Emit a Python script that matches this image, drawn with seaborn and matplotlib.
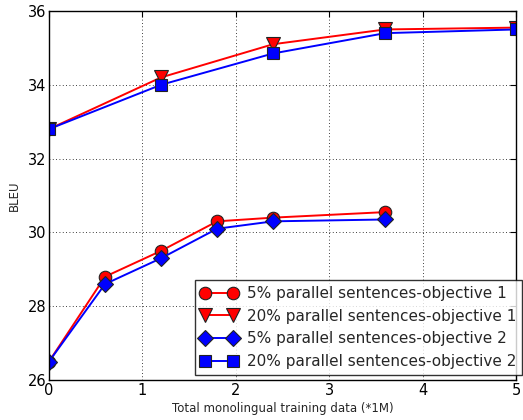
import matplotlib
matplotlib.use("Agg")
import matplotlib.pyplot as plt
import seaborn as sns
import pandas as pd

# Amount of monolingual data (millions of sentences)
x_small = [0, 0.6, 1.2, 1.8, 2.4, 3.6]
x_large = [0, 1.2, 2.4, 3.6, 5.0]

# BLEU scores
bleu_5_obj1 = [26.5, 28.8, 29.5, 30.3, 30.4, 30.55]
bleu_20_obj1 = [32.8, 34.2, 35.1, 35.5, 35.55]
bleu_5_obj2 = [26.5, 28.6, 29.3, 30.1, 30.3, 30.35]
bleu_20_obj2 = [32.8, 34.0, 34.85, 35.4, 35.5]

labels = [
    "5% parallel sentences-objective 1",
    "20% parallel sentences-objective 1",
    "5% parallel sentences-objective 2",
    "20% parallel sentences-objective 2",
]
xticks = [0, 1, 2, 3, 4, 5]
yticks = [26, 28, 30, 32, 34, 36]

sns.set_style("white")
plt.rcParams["font.family"] = ["DejaVu Sans"]

fig = plt.figure(figsize=(5.23, 4.2), dpi=100)
ax = fig.add_axes([49 / 523, 40 / 420, (516 - 49) / 523, (380 - 11) / 420])

series = [
    (x_small, bleu_5_obj1, "#ff0000", "o", 9),
    (x_large, bleu_20_obj1, "#ff0000", "v", 9.5),
    (x_small, bleu_5_obj2, "#0000ff", "D", 8.5),
    (x_large, bleu_20_obj2, "#0000ff", "s", 9),
]
for (xs, ys, color, marker, ms), label in zip(series, labels):
    df = pd.DataFrame({"x": xs, "y": ys})
    sns.lineplot(
        data=df, x="x", y="y", ax=ax, color=color, marker=marker,
        markersize=ms, markeredgecolor="#222222", markeredgewidth=0.8,
        linewidth=1.4, label=label,
    )

ax.set_xlim(0, 5)
ax.set_ylim(26, 36)
ax.set_xticks(xticks)
ax.set_yticks(yticks)
ax.tick_params(direction="in", length=4, width=0.8, top=True, right=True,
               labelsize=10.5, colors="black", pad=2)
ax.grid(True, color="black", linestyle=(0, (1, 3)), linewidth=0.6)
for sp in ax.spines.values():
    sp.set_color("black")
    sp.set_linewidth(1.0)

ax.set_xlabel("Total monolingual training data (*1M)", fontsize=8.5, labelpad=3)
ax.set_ylabel("BLEU", fontsize=8.5, labelpad=5)

leg = ax.legend(
    loc="lower right", bbox_to_anchor=(522 / 523, 45 / 420),
    bbox_transform=fig.transFigure, borderaxespad=0, numpoints=2,
    fontsize=11, frameon=True, fancybox=False, handlelength=2.4,
    handletextpad=0.6, labelspacing=0.5, borderpad=0.4,
)
leg.get_frame().set_edgecolor("black")
leg.get_frame().set_linewidth(1.0)

fig.savefig("out.png", dpi=100)
